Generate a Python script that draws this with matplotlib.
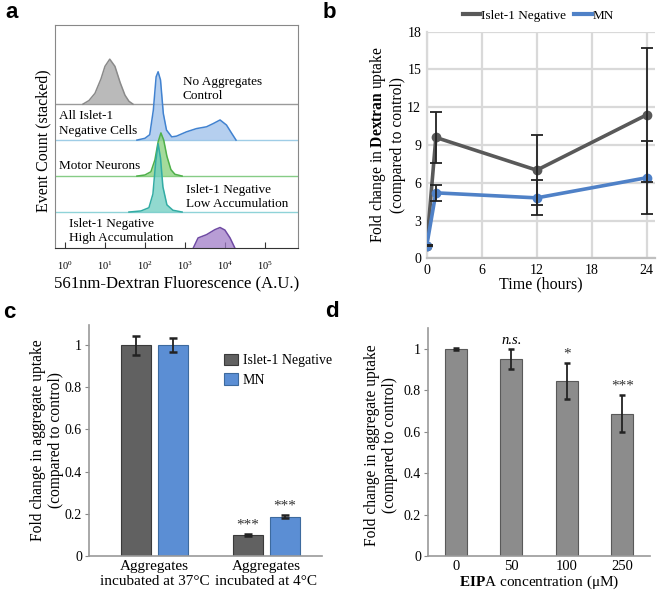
import matplotlib
matplotlib.use("Agg")
import matplotlib.pyplot as plt
from matplotlib.lines import Line2D
import numpy as np

plt.rcParams['font.family'] = ['Liberation Serif', 'DejaVu Serif']
plt.rcParams['mathtext.fontset'] = 'custom'
plt.rcParams['mathtext.rm'] = 'Liberation Serif'
plt.rcParams['mathtext.bf'] = 'Liberation Serif:bold'
plt.rcParams['mathtext.it'] = 'Liberation Serif:italic'

W, H = 660, 591

# ---- panel a: stacked flow histograms (x = log10 fluorescence, y = lane height)
ctrl_x = [0.45, 0.6, 0.75, 0.9, 1.0, 1.12, 1.25, 1.38, 1.5, 1.6, 1.7]
ctrl_y = [0, 0.1, 0.3, 0.7, 1.05, 1.25, 1.05, 0.6, 0.25, 0.08, 0]
alln_x = [1.8, 2.0, 2.12, 2.21, 2.28, 2.33, 2.39, 2.46, 2.54, 2.67, 2.79, 3.04,
          3.29, 3.54, 3.71, 3.88, 4.04, 4.17, 4.28]
alln_y = [0, 0.05, 0.15, 0.83, 1.76, 1.9, 1.67, 0.74, 0.28, 0.09, 0.11, 0.23,
          0.32, 0.37, 0.46, 0.56, 0.42, 0.19, 0]
mn_x = [1.8, 2.0, 2.15, 2.25, 2.33, 2.4, 2.47, 2.55, 2.65, 2.75, 2.93]
mn_y = [0, 0.03, 0.12, 0.45, 0.95, 1.2, 1.0, 0.55, 0.18, 0.05, 0]
low_x = [1.6, 1.9, 2.1, 2.2, 2.27, 2.33, 2.39, 2.45, 2.55, 2.7, 2.93]
low_y = [0, 0.03, 0.12, 0.5, 1.4, 1.9, 1.5, 0.7, 0.2, 0.05, 0]
high_x = [3.21, 3.33, 3.54, 3.75, 3.88, 4.0, 4.13, 4.25]
high_y = [0, 0.28, 0.37, 0.51, 0.57, 0.5, 0.28, 0]

# ---- panel b: dextran uptake time course
time_h = [0, 1, 12, 24]
isl_mean = [1.0, 9.6, 7.0, 11.4]
isl_err = [0.06, 2.0, 2.8, 5.3]
mn_mean = [1.0, 5.2, 4.8, 6.4]
mn_err = [0.06, 0.65, 1.4, 2.9]

# ---- panel c: temperature
temp_labels = ["Aggregates\nincubated at 37°C", "Aggregates\nincubated at 4°C"]
temp_isl = [1.0, 0.10]
temp_isl_err = [0.045, 0.005]
temp_mn = [1.0, 0.187]
temp_mn_err = [0.035, 0.005]
temp_sig = ["", "***"]

# ---- panel d: EIPA
eipa_conc = ["0", "50", "100", "250"]
eipa_mean = [1.0, 0.952, 0.843, 0.687]
eipa_err = [0.004, 0.048, 0.087, 0.09]
eipa_sig = ["", "n.s.", "*", "***"]


def rect(l, t, r, b):
    return [l / W, 1 - b / H, (r - l) / W, (b - t) / H]


fig = plt.figure(figsize=(6.6, 5.91), dpi=100)

# ================= a
ax = fig.add_axes(rect(55, 25, 298, 248))
ax.set_xscale('log')
lanes = [
    (ctrl_x, ctrl_y, 4, '#a3a3a3', '#8a8a8a', '#9a9a9a'),
    (alln_x, alln_y, 3, '#9cc0ea', '#4182d0', '#9fcde6'),
    (mn_x, mn_y, 2, '#86d07a', '#4fb04a', '#86cc86'),
    (low_x, low_y, 1, '#6ccdc0', '#33aca4', '#8fd3d8'),
    (high_x, high_y, 0, '#a07cc8', '#6f4aa3', '#777777'),
]
for xs, ys, base, fc, ec, lc in lanes:
    if base > 0:
        ax.axhline(base, color=lc, lw=1, zorder=1)
for xs, ys, base, fc, ec, lc in lanes:
    xv = 10 ** np.array(xs)
    yv = base + np.array(ys)
    ax.fill_between(xv, base, yv, color=fc, alpha=0.75, lw=0, zorder=2)
    ax.plot(xv, yv, color=ec, lw=1.1, zorder=3)
ax.set_xlim(10 ** -0.25, 10 ** 5.83)
ax.set_ylim(0, 6.2)
ax.set_yticks([])
ax.set_xticks([10 ** k for k in range(6)])
ax.set_xticklabels([r'$10^{%d}$' % k for k in range(6)], fontsize=7.5)
ax.tick_params(axis='x', which='major', direction='in', length=4, pad=8, color='#333')
ax.tick_params(axis='x', which='minor', direction='in', length=2.5, color='#333')
for s in ax.spines.values():
    s.set_color('#888')
ax.spines['bottom'].set_color('#333')
lab = dict(fontsize=9.5, va='center', linespacing=1.25)
ax.text(10 ** 2.95, 4.43, "No Aggregates\nControl", **lab)
ax.text(10 ** -0.15, 3.46, "All Islet-1\nNegative Cells", **lab)
ax.text(10 ** -0.15, 2.28, "Motor Neurons", **lab)
ax.text(10 ** 3.03, 1.42, "Islet-1 Negative\nLow Accumulation", **lab)
ax.text(10 ** 0.1, 0.47, "Islet-1 Negative\nHigh Accumulation", **lab)
fig.text(43 / W, 1 - 141 / H, "Event Count (stacked)", rotation=90, ha='center', va='center', fontsize=11.5)
fig.text(177 / W, 1 - 283 / H, "561nm-Dextran Fluorescence (A.U.)", ha='center', va='center', fontsize=12)

# ================= b
bx = fig.add_axes(rect(426.7, 31.7, 655, 258.3))
bx.plot(time_h, isl_mean, color='#595959', lw=2.6, marker='o', ms=6, zorder=3)
bx.plot(time_h, mn_mean, color='#4f81c7', lw=2.6, marker='o', ms=6, zorder=3)
bx.errorbar(time_h, isl_mean, yerr=isl_err, fmt='none', ecolor='#222', elinewidth=1.3,
            capsize=4, capthick=1.3, zorder=4)
bx.errorbar(time_h, mn_mean, yerr=mn_err, fmt='none', ecolor='#222', elinewidth=1.3,
            capsize=4, capthick=1.3, zorder=4)
bx.set_xlim(0, 24.9)
bx.set_ylim(0, 18)
bx.set_xticks([0, 6, 12, 18, 24])
bx.set_yticks([0, 3, 6, 9, 12, 15, 18])
bx.grid(True, color='#d9d9d9', lw=1.6)
bx.set_axisbelow(True)
bx.tick_params(length=0, labelsize=10, pad=4)
for k in ['top', 'right']:
    bx.spines[k].set_visible(False)
bx.spines['left'].set_color('#d9d9d9')
bx.spines['left'].set_linewidth(1.6)
bx.spines['bottom'].set_color('#bfbfbf')
bx.spines['bottom'].set_linewidth(1.6)
bx.set_xlabel("Time (hours)", fontsize=11.5, labelpad=0)
fig.text(387 / W, 1 - 145 / H, "Fold change in $\\bf{Dextran}$ uptake\n(compared to control)",
         rotation=90, ha='center', va='center', fontsize=11.2, linespacing=1.15)
handles = [Line2D([0], [0], color='#595959', lw=3), Line2D([0], [0], color='#4f81c7', lw=3)]
bx.legend(handles, ['Islet-1 Negative', 'MN'], loc='center', bbox_to_anchor=(0.49, 1.07),
          ncol=2, frameon=False, fontsize=9.5, handlelength=1.3, handletextpad=0.1,
          columnspacing=0.6)

# ================= c
cx = fig.add_axes(rect(89, 325, 322, 556))
xpos = np.arange(len(temp_labels))
bw = 0.27
cx.bar(xpos - 0.167, temp_isl, bw, color='#616161', edgecolor='#3a3a3a', lw=0.8, label='Islet-1 Negative')
cx.bar(xpos + 0.167, temp_mn, bw, color='#5b8ed4', edgecolor='#3d6a9e', lw=0.8, label='MN')
cx.errorbar(xpos - 0.167, temp_isl, yerr=temp_isl_err, fmt='none', ecolor='#222', elinewidth=1.3,
            capsize=3, capthick=1.8)
cx.errorbar(xpos + 0.167, temp_mn, yerr=temp_mn_err, fmt='none', ecolor='#222', elinewidth=1.3,
            capsize=3, capthick=1.8)
for i, s in enumerate(temp_sig):
    if s:
        cx.text(xpos[i] - 0.167, temp_isl[i] + temp_isl_err[i] + 0.024, s, ha='center',
                va='baseline', fontsize=11, color='#333')
        cx.text(xpos[i] + 0.167, temp_mn[i] + temp_mn_err[i] + 0.027, s, ha='center',
                va='baseline', fontsize=11, color='#333')
cx.set_xlim(-0.59, 1.5)
cx.set_ylim(0, 1.095)
cx.set_yticks([0, 0.2, 0.4, 0.6, 0.8, 1.0])
cx.set_yticklabels(["0", "0.2", "0.4", "0.6", "0.8", "1"])
cx.set_xticks(xpos)
cx.set_xticklabels(temp_labels, fontsize=11, linespacing=1.2)
cx.tick_params(axis='y', labelsize=10, length=3, color='#888', pad=2)
cx.tick_params(axis='x', length=0, pad=3)
for k in ['top', 'right']:
    cx.spines[k].set_visible(False)
cx.spines['left'].set_color('#999')
cx.spines['bottom'].set_color('#999')
cx.spines['left'].set_linewidth(1.2)
cx.spines['bottom'].set_linewidth(1.2)
cx.legend(loc='upper left', bbox_to_anchor=(0.555, 0.9), frameon=False, fontsize=10,
          handlelength=1.05, handleheight=0.9, handletextpad=0.3, labelspacing=0.45, borderaxespad=0)
fig.text(47 / W, 1 - 440 / H, "Fold change in aggregate uptake\n(compared to control)",
         rotation=90, ha='center', va='center', fontsize=11.2, linespacing=1.15)

# ================= d
dx = fig.add_axes(rect(428, 328, 650, 556))
dpos = np.arange(len(eipa_conc))
dx.bar(dpos, eipa_mean, 0.4, color='#8c8c8c', edgecolor='#595959', lw=0.8)
dx.errorbar(dpos, eipa_mean, yerr=eipa_err, fmt='none', ecolor='#222', elinewidth=1.3,
            capsize=2.5, capthick=1.8)
for i, s in enumerate(eipa_sig):
    if s == "n.s.":
        dx.text(dpos[i], 1.024, s, ha='center', va='baseline', fontsize=10.5, fontstyle='italic')
    elif s:
        dx.text(dpos[i], eipa_mean[i] + eipa_err[i] + 0.026, s, ha='center', va='baseline',
                fontsize=11, color='#333')
dx.set_xlim(-0.5, 3.5)
dx.set_ylim(0, 1.1)
dx.set_yticks([0, 0.2, 0.4, 0.6, 0.8, 1.0])
dx.set_yticklabels(["0", "0.2", "0.4", "0.6", "0.8", "1"])
dx.set_xticks(dpos)
dx.set_xticklabels(eipa_conc)
dx.tick_params(axis='y', labelsize=10, length=3, color='#888', pad=2)
dx.tick_params(axis='x', labelsize=10.5, length=0, pad=3)
for k in ['top', 'right']:
    dx.spines[k].set_visible(False)
dx.spines['left'].set_color('#999')
dx.spines['bottom'].set_color('#999')
dx.spines['left'].set_linewidth(1.2)
dx.spines['bottom'].set_linewidth(1.2)
fig.text(539 / W, 1 - 582 / H, "$\\bf{EIP}$A concentration (μM)", ha='center', va='center',
         fontsize=11)
fig.text(381 / W, 1 - 445 / H, "Fold change in aggregate uptake\n(compared to control)",
         rotation=90, ha='center', va='center', fontsize=11.2, linespacing=1.15)

# panel letters
for letter, px, py in [("a", 5, 18), ("b", 323, 18), ("c", 3, 318), ("d", 325, 317)]:
    fig.text(px / W, 1 - py / H, letter, fontfamily='Liberation Sans', fontweight='bold',
             fontsize=16, va='baseline', ha='left')

fig.savefig("out.png", dpi=100)
